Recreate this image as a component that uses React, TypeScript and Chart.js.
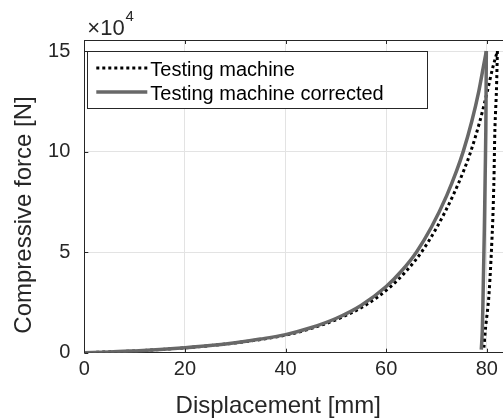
import React, { useEffect, useRef } from "react";
import { Chart, registerables } from "chart.js";

Chart.register(...registerables);

// ---- data (force in units of 10^4 N) ----
const xTicks = [0, 20, 40, 60, 80];
const yTicks = [0, 5, 10, 15];
const X_MIN = 0;
const X_MAX = 85;
const Y_MIN = 0;
const Y_MAX = 15.55;
const yExponent = "4";

// Testing machine: loading branch, then unloading branch (starts at the peak)
const machineLoadX = [0, 10.2, 20.3, 30.4, 40.5, 45.5, 50.6, 55.8, 60.9, 63.95, 67, 70.1, 73.25, 75.4, 76.8, 78.6, 80.1, 81.2, 82.1];
const machineLoadY = [0, 0.09, 0.25, 0.5, 0.9, 1.24, 1.7, 2.35, 3.29, 4.05, 5.0, 6.25, 7.8, 9.05, 10.0, 11.5, 13.0, 14.2, 15.0];
const machineUnloadX = [82.1, 81.9, 81.6, 81.4, 81.1, 80.4, 79.7, 79.4];
const machineUnloadY = [15.0, 13.0, 11.1, 8.5, 6.1, 2.8, 1.13, 0.2];

// Testing machine corrected
const correctedLoadX = [0, 5, 10, 15, 20, 25, 30, 35, 40, 45, 50, 55, 60, 63, 66, 69, 72, 74, 75.3, 77, 78.4, 79.3, 79.9];
const correctedLoadY = [0, 0.03, 0.09, 0.16, 0.25, 0.36, 0.5, 0.68, 0.9, 1.24, 1.7, 2.35, 3.29, 4.05, 5.0, 6.25, 7.8, 9.05, 10.0, 11.5, 13.0, 14.2, 15.0];
const correctedUnloadX = [79.9, 79.85, 79.8, 79.65, 79.5, 79.3, 79.1, 78.9];
const correctedUnloadY = [15.0, 13.0, 11.1, 8.5, 6.1, 3.5, 1.1, 0.15];

const seriesLabels = ["Testing machine", "Testing machine corrected"];
const xTitle = "Displacement [mm]";
const yTitle = "Compressive force [N]";

const TEXT = "#262626";
const GRID = "#e3e3e3";
const GRAY = "#686868";
const FONT = "'Liberation Sans', Arial, Helvetica, sans-serif";

export default function App() {
  const ref = useRef<HTMLCanvasElement | null>(null);

  useEffect(() => {
    const canvas = ref.current;
    if (!canvas) return;
    const pts = (xs: number[], ys: number[]) => xs.map((x, i) => ({ x, y: ys[i] }));

    const decor = {
      id: "decor",
      afterDraw(chart: any) {
        const { ctx, chartArea: a, scales } = chart;
        const xs = scales.x;
        const ys = scales.y;
        ctx.save();
        // top box line
        ctx.strokeStyle = TEXT;
        ctx.lineWidth = 1;
        ctx.beginPath();
        ctx.moveTo(a.left, Math.round(a.top) + 0.5);
        ctx.lineTo(a.right, Math.round(a.top) + 0.5);
        ctx.stroke();
        // inward ticks
        const tl = 4;
        ctx.beginPath();
        xTicks.forEach((v) => {
          const px = Math.round(xs.getPixelForValue(v)) + 0.5;
          ctx.moveTo(px, a.bottom);
          ctx.lineTo(px, a.bottom - tl);
          ctx.moveTo(px, a.top);
          ctx.lineTo(px, a.top + tl);
        });
        yTicks.forEach((v) => {
          const py = Math.round(ys.getPixelForValue(v)) + 0.5;
          ctx.moveTo(a.left, py);
          ctx.lineTo(a.left + tl, py);
        });
        ctx.stroke();

        // exponent label
        ctx.fillStyle = TEXT;
        ctx.textBaseline = "alphabetic";
        ctx.textAlign = "left";
        ctx.font = `22px ${FONT}`;
        const base = "\u00d710";
        const bx = a.left + 3;
        ctx.fillText(base, bx, a.top - 5);
        const w = ctx.measureText(base).width;
        ctx.font = `15px ${FONT}`;
        ctx.fillText(yExponent, bx + w + 1, a.top - 19);

        // legend
        const lx = a.left + 3;
        const ly = a.top + 11;
        const lw = 340;
        const lh = 57;
        ctx.fillStyle = "#ffffff";
        ctx.fillRect(lx, ly, lw, lh);
        ctx.strokeStyle = TEXT;
        ctx.lineWidth = 1;
        ctx.strokeRect(Math.round(lx) + 0.5, Math.round(ly) + 0.5, lw, lh);
        const rows = [ly + 17, ly + 41];
        ctx.strokeStyle = "#000000";
        ctx.lineWidth = 3;
        ctx.setLineDash([3, 3]);
        ctx.beginPath();
        ctx.moveTo(lx + 9, rows[0]);
        ctx.lineTo(lx + 60, rows[0]);
        ctx.stroke();
        ctx.setLineDash([]);
        ctx.strokeStyle = GRAY;
        ctx.lineWidth = 3.5;
        ctx.beginPath();
        ctx.moveTo(lx + 9, rows[1]);
        ctx.lineTo(lx + 60, rows[1]);
        ctx.stroke();
        ctx.fillStyle = "#000000";
        ctx.font = `20px ${FONT}`;
        ctx.textBaseline = "alphabetic";
        ctx.fillText(seriesLabels[0], lx + 63, rows[0] + 7.5);
        ctx.fillText(seriesLabels[1], lx + 63, rows[1] + 7.5);

        // axis titles
        ctx.fillStyle = TEXT;
        ctx.font = `24px ${FONT}`;
        ctx.textAlign = "center";
        ctx.textBaseline = "alphabetic";
        ctx.fillText(xTitle, a.left + 194, a.bottom + 60.5);
        ctx.save();
        ctx.translate(a.left - 53, a.top + 175);
        ctx.rotate(-Math.PI / 2);
        ctx.fillText(yTitle, 0, 0);
        ctx.restore();

        ctx.restore();
      },
    };

    const machineStyle = {
      showLine: true,
      borderColor: "#000000",
      borderWidth: 3,
      borderDash: [3, 3],
      pointRadius: 0,
      order: 1,
    };
    const correctedStyle = {
      showLine: true,
      borderColor: GRAY,
      borderWidth: 3.5,
      pointRadius: 0,
      order: 0,
    };

    const chart = new Chart(canvas, {
      type: "scatter",
      data: {
        datasets: [
          {
            label: seriesLabels[0],
            data: pts(machineLoadX, machineLoadY),
            cubicInterpolationMode: "monotone",
            ...machineStyle,
          },
          {
            label: seriesLabels[0] + " (unloading)",
            data: pts(machineUnloadX, machineUnloadY),
            tension: 0.3,
            ...machineStyle,
          },
          {
            label: seriesLabels[1],
            data: pts(correctedLoadX, correctedLoadY),
            cubicInterpolationMode: "monotone",
            ...correctedStyle,
          },
          {
            label: seriesLabels[1] + " (unloading)",
            data: pts(correctedUnloadX, correctedUnloadY),
            tension: 0.3,
            ...correctedStyle,
          },
        ] as any,
      },
      options: {
        responsive: false,
        animation: false,
        layout: { padding: { left: 0, top: 40, right: 8, bottom: 0 } },
        plugins: { legend: { display: false }, tooltip: { enabled: false } },
        scales: {
          x: {
            type: "linear",
            min: X_MIN,
            max: X_MAX,
            afterBuildTicks: (s: any) => {
              s.ticks = xTicks.map((v) => ({ value: v }));
            },
            afterFit: (s: any) => {
              s.height = 67.3;
            },
            ticks: {
              autoSkip: false,
              maxRotation: 0,
              padding: 5,
              color: TEXT,
              font: { family: FONT, size: 20 },
            },
            grid: {
              drawTicks: false,
              color: (c: any) => (c.tick && c.tick.value === 0 ? "rgba(0,0,0,0)" : GRID),
              lineWidth: 1,
            },
            border: { color: TEXT, width: 1 },
          },
          y: {
            type: "linear",
            min: Y_MIN,
            max: Y_MAX,
            afterBuildTicks: (s: any) => {
              s.ticks = yTicks.map((v) => ({ value: v }));
            },
            afterFit: (s: any) => {
              s.width = 84.3;
            },
            ticks: {
              autoSkip: false,
              padding: 14,
              color: TEXT,
              font: { family: FONT, size: 20 },
            },
            grid: {
              drawTicks: false,
              color: (c: any) => (c.tick && c.tick.value === 0 ? "rgba(0,0,0,0)" : GRID),
              lineWidth: 1,
            },
            border: { color: TEXT, width: 1 },
          },
        },
      },
      plugins: [decor],
    });
    return () => chart.destroy();
  }, []);

  return (
    <div
      style={{
        position: "absolute",
        left: 0,
        top: 0,
        width: 503,
        height: 420,
        overflow: "hidden",
        background: "#ffffff",
      }}
    >
      <canvas ref={ref} width={520} height={420} style={{ display: "block" }} />
    </div>
  );
}
